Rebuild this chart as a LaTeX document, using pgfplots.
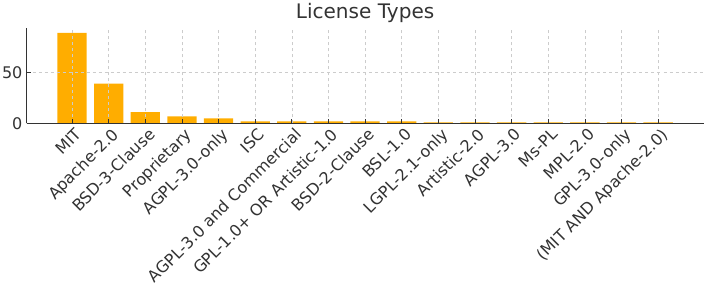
\documentclass[border=0pt]{standalone}
\usepackage{fontspec}
\setmainfont{DejaVu Sans}
\usepackage{pgfplots}
\pgfplotsset{compat=1.18}
\definecolor{barc}{HTML}{FFAD00}
\definecolor{txt}{HTML}{333333}
\definecolor{gridc}{HTML}{CCCCCC}
\begin{document}
\begin{tikzpicture}
\begin{axis}[
  scale only axis,
  width=676pt, height=95pt,
  xmin=-1.24, xmax=17.24,
  ymin=0, ymax=93.45,
  axis lines*=left,
  axis line style={black!80, line width=0.9pt},
  ybar, bar width=0.8, bar shift=0pt,
  xtick=data,
  xticklabels={MIT,Apache-2.0,BSD-3-Clause,Proprietary,AGPL-3.0-only,ISC,AGPL-3.0 and Commercial,GPL-1.0+ OR Artistic-1.0,BSD-2-Clause,BSL-1.0,LGPL-2.1-only,Artistic-2.0,AGPL-3.0,Ms-PL,MPL-2.0,GPL-3.0-only,(MIT AND Apache-2.0)},
  ytick={0,50},
  tick align=inside,
  major tick length=4pt,
  tick style={black!80, line width=0.7pt},
  xticklabel style={rotate=45, anchor=north east, inner sep=1pt, yshift=-3pt},
  yticklabel style={inner sep=2pt, xshift=-2pt},
  ticklabel style={font=\fontsize{16}{19}\selectfont, text=txt},
  /pgf/number format/assume math mode=true,
  xmajorgrids, ymajorgrids,
  grid style={dashed, gridc, line width=0.6pt},
  axis on top,
  title={License Types},
  title style={font=\fontsize{20}{24}\selectfont, text=txt, yshift=-4pt},
]
\addplot[fill=barc, draw=none] coordinates {
 (0,89) (1,39) (2,11) (3,7) (4,5) (5,2) (6,2) (7,2) (8,2) (9,2)
 (10,1) (11,1) (12,1) (13,1) (14,1) (15,1) (16,1)};
\end{axis}
\end{tikzpicture}
\end{document}
